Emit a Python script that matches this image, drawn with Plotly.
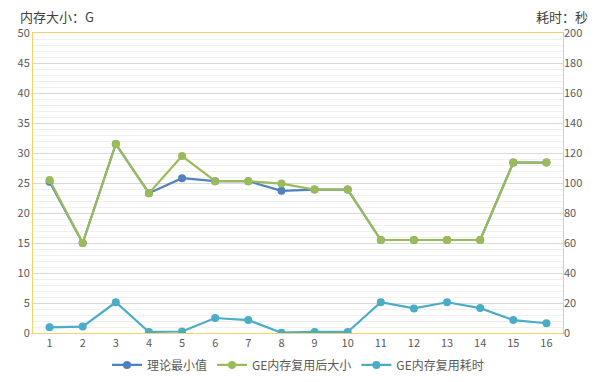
import plotly.graph_objects as go

categories = [str(i) for i in range(1, 17)]
theory_min = [25.2, 15.0, 31.5, 23.3, 25.8, 25.3, 25.3, 23.7, 23.9, 23.9, 15.5, 15.5, 15.5, 15.5, 28.4, 28.4]
ge_size = [25.5, 15.0, 31.5, 23.3, 29.5, 25.3, 25.3, 24.9, 23.9, 23.9, 15.5, 15.5, 15.5, 15.5, 28.4, 28.4]
ge_time = [3.8, 4.3, 20.5, 0.7, 1.0, 10.0, 8.6, 0.2, 0.7, 0.7, 20.5, 16.4, 20.5, 16.6, 8.6, 6.5]

FONT = "Noto Sans CJK SC, Noto Sans, sans-serif"
BORDER = "#F2D36B"

fig = go.Figure()
fig.add_trace(go.Scatter(x=categories, y=theory_min, name="理论最小值", mode="lines+markers",
                         line=dict(color="#4F81BD", width=2.2), marker=dict(size=8, color="#4F81BD")))
fig.add_trace(go.Scatter(x=categories, y=ge_size, name="GE内存复用后大小", mode="lines+markers",
                         line=dict(color="#9BBB59", width=2.2), marker=dict(size=8, color="#9BBB59")))
fig.add_trace(go.Scatter(x=categories, y=ge_time, name="GE内存复用耗时", mode="lines+markers", yaxis="y2",
                         line=dict(color="#4BACC6", width=2.2), marker=dict(size=8, color="#4BACC6")))

fig.update_layout(
    width=600, height=382,
    margin=dict(l=25, r=45, t=25, b=57, autoexpand=False),
    paper_bgcolor="white", plot_bgcolor="white",
    font=dict(family=FONT, size=11, color="#595959"),
    xaxis=dict(type="category", range=[-0.5, 15.5], showgrid=False, showline=True, linecolor=BORDER,
               linewidth=1, mirror=True, ticks="", automargin=False,
               tickfont=dict(size=11, color="#595959")),
    yaxis=dict(range=[0, 50], dtick=5, showgrid=True, gridcolor="#D9D9D9", gridwidth=1,
               minor=dict(dtick=1, showgrid=True, gridcolor="#F0F0F0"),
               showline=True, linecolor=BORDER, linewidth=1, mirror=True, zeroline=False,
               ticks="", automargin=False, tickfont=dict(size=11, color="#595959")),
    yaxis2=dict(range=[0, 200], dtick=20, overlaying="y", side="right", showgrid=False,
                showline=False, zeroline=False, ticks="", automargin=False,
                tickfont=dict(size=11, color="#595959")),
    legend=dict(orientation="h", x=0.5, xanchor="center", y=-0.058, yanchor="top",
                font=dict(size=12, color="#595959"), itemwidth=30, tracegroupgap=0),
    showlegend=True,
)
fig.add_annotation(text="内存大小：G", xref="paper", yref="paper", x=-0.028, y=1.055,
                   xanchor="left", yanchor="middle", showarrow=False,
                   font=dict(size=13, color="#404040"))
fig.add_annotation(text="耗时：秒", xref="paper", yref="paper", x=1.051, y=1.055,
                   xanchor="right", yanchor="middle", showarrow=False,
                   font=dict(size=13, color="#404040"))
fig.write_html("out.html")
